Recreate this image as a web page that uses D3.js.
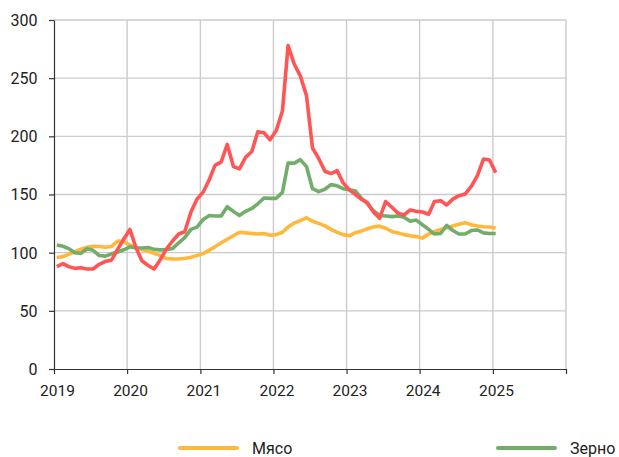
<!DOCTYPE html>
<html>
<head>
<meta charset="utf-8">
<script src="https://cdn.jsdelivr.net/npm/d3@7"></script>
<style>
  body { margin: 0; background: #fff; }
  text { font-family: Roboto, "Noto Sans", sans-serif; fill: #222; }
</style>
</head>
<body>
<div id="chart"></div>
<script>
// monthly points, Jan 2019 .. Jan 2025
const startMonth = new Date(2019, 0, 1);
const endMonth = new Date(2025, 1, 1);

const meat = [95.8, 96.6, 98.5, 101, 103, 104.7, 105.4, 105.3, 104.7, 105.3,
  110, 109.5, 106.5, 104.5, 102.7, 101.3, 99.5, 97.5, 95, 94.7,
  94.6, 95, 96, 97.5, 99.2, 102.2, 105, 108.5, 111.5, 114.5,
  117.5, 117, 116.5, 116, 116.5, 115, 115.5, 117.5, 122, 125.5,
  127.5, 130, 127, 125.2, 123, 120, 117.5, 115.5, 114.5, 117.3,
  118.5, 120.5, 122, 122.8, 121, 118.3, 117, 115.5, 114.5, 113.8,
  112.5, 116, 118, 120, 121.5, 123, 124.5, 125.8, 124, 123,
  122.3, 122, 121];

const grain = [106.5, 105.5, 103.5, 100, 99.4, 103.3, 102, 97.5, 97, 99,
  100.5, 102.5, 105, 104, 104, 104.5, 102.8, 102.4, 102.5, 103.5,
  108.5, 113, 120, 122, 128.5, 132, 131.5, 131.5, 139.5, 135.5,
  132, 135.5, 138, 142, 147, 146.7, 146.7, 152, 177, 177,
  180, 174, 155, 152.5, 154.5, 158.5, 157.5, 155, 154, 153,
  147, 142, 136, 132, 131.5, 131, 131.5, 130.5, 127, 128,
  124, 120, 116, 116.5, 123.5, 119, 116, 116, 119, 119.5,
  117, 116.5, 116.5];

const oil = [88, 90.5, 88, 86.5, 87, 86, 86, 90, 92.5, 93.5,
  103, 111.5, 120, 104, 93, 89, 86, 94, 103, 110,
  116, 118, 135, 146, 152, 163, 175, 178, 193, 174,
  172, 182, 187, 204, 203, 197, 205, 222, 278, 262,
  252, 235, 190, 181, 170, 168, 170.5, 160, 154, 150,
  146, 143, 135, 129.5, 144, 139, 134, 132.4, 136.7, 135.5,
  135, 133, 144, 144.7, 141, 146, 149, 150.4, 157, 166,
  180.5, 179.6, 168.8];

const yTicks = [0, 50, 100, 150, 200, 250, 300];
const yearTicks = [2019, 2020, 2021, 2022, 2023, 2024, 2025, 2026];
const yearLabels = ['2019', '2020', '2021', '2022', '2023', '2024', '2025', ''];

const seriesNames = ['Мясо', 'Зерно', ''];
const seriesColors = ['#ffb83c', '#73ad6c', '#ff5555'];

const w = 619;
const h = 457;
const margin = { top: 20, right: 53, bottom: 88, left: 54 };

const months = d3.timeMonth.range(startMonth, endMonth).map(d => d3.timeDay.offset(d, 14));

const svg = d3.select('#chart').append('svg').attr('width', w).attr('height', h);

const xScale = d3.scaleTime()
  .domain([new Date(2019, 0, 1), new Date(2026, 0, 1)])
  .range([margin.left, w - margin.right]);

const yScale = d3.scaleLinear()
  .domain([0, 300])
  .range([h - margin.bottom, margin.top]);

const yearDates = yearTicks.map(y => new Date(y, 0, 1));

// grid
svg.append('g')
  .selectAll('line')
  .data(yTicks.slice(1))
  .enter()
  .append('line')
  .attr('x1', margin.left)
  .attr('x2', w - margin.right)
  .attr('y1', d => yScale(d))
  .attr('y2', d => yScale(d))
  .attr('stroke', '#cbcbcb')
  .attr('stroke-width', 1.4);

svg.append('g')
  .selectAll('line')
  .data(yearDates.slice(1))
  .enter()
  .append('line')
  .attr('x1', d => xScale(d))
  .attr('x2', d => xScale(d))
  .attr('y1', margin.top)
  .attr('y2', h - margin.bottom)
  .attr('stroke', '#cbcbcb')
  .attr('stroke-width', 1.4);

// lines
const line = d3.line()
  .x((d, i) => xScale(months[i]))
  .y(d => yScale(d));

[meat, grain, oil].forEach((values, k) => {
  svg.append('path')
     .datum(values)
     .attr('d', line)
     .attr('fill', 'none')
     .attr('stroke', seriesColors[k])
     .attr('stroke-width', 3.6)
     .attr('stroke-linejoin', 'round');
});

// axes
const yAxis = d3.axisLeft(yScale).tickValues(yTicks).tickSize(5).tickSizeOuter(0);
const gy = svg.append('g').attr('transform', `translate(${margin.left}, 0)`).call(yAxis);
gy.selectAll('text').attr('x', -16.5).style('font-size', '16px').attr('dy', '0.34em');

const xAxis = d3.axisBottom(xScale)
  .tickValues(yearDates)
  .tickSize(5)
  .tickSizeOuter(0)
  .tickFormat((d, i) => yearLabels[i]);
const gx = svg.append('g').attr('transform', `translate(0, ${h - margin.bottom})`).call(xAxis);
gx.selectAll('text').attr('dx', 3).attr('y', 16).style('font-size', '15.5px');

svg.selectAll('.domain, .tick line').attr('stroke', '#333').attr('stroke-width', 1.2);
svg.selectAll('.tick text').attr('fill', '#222');

// legend
const legendPos = [180, 498];
[0, 1].forEach(k => {
  const lg = svg.append('g').attr('transform', `translate(${legendPos[k]}, 448)`);
  lg.append('line')
    .attr('x1', 0).attr('x2', 57)
    .attr('stroke', seriesColors[k])
    .attr('stroke-width', 4)
    .attr('stroke-linecap', 'round');
  lg.append('text')
    .attr('x', 72)
    .attr('y', 6)
    .style('font-size', '16px')
    .text(seriesNames[k]);
});
</script>
</body>
</html>
